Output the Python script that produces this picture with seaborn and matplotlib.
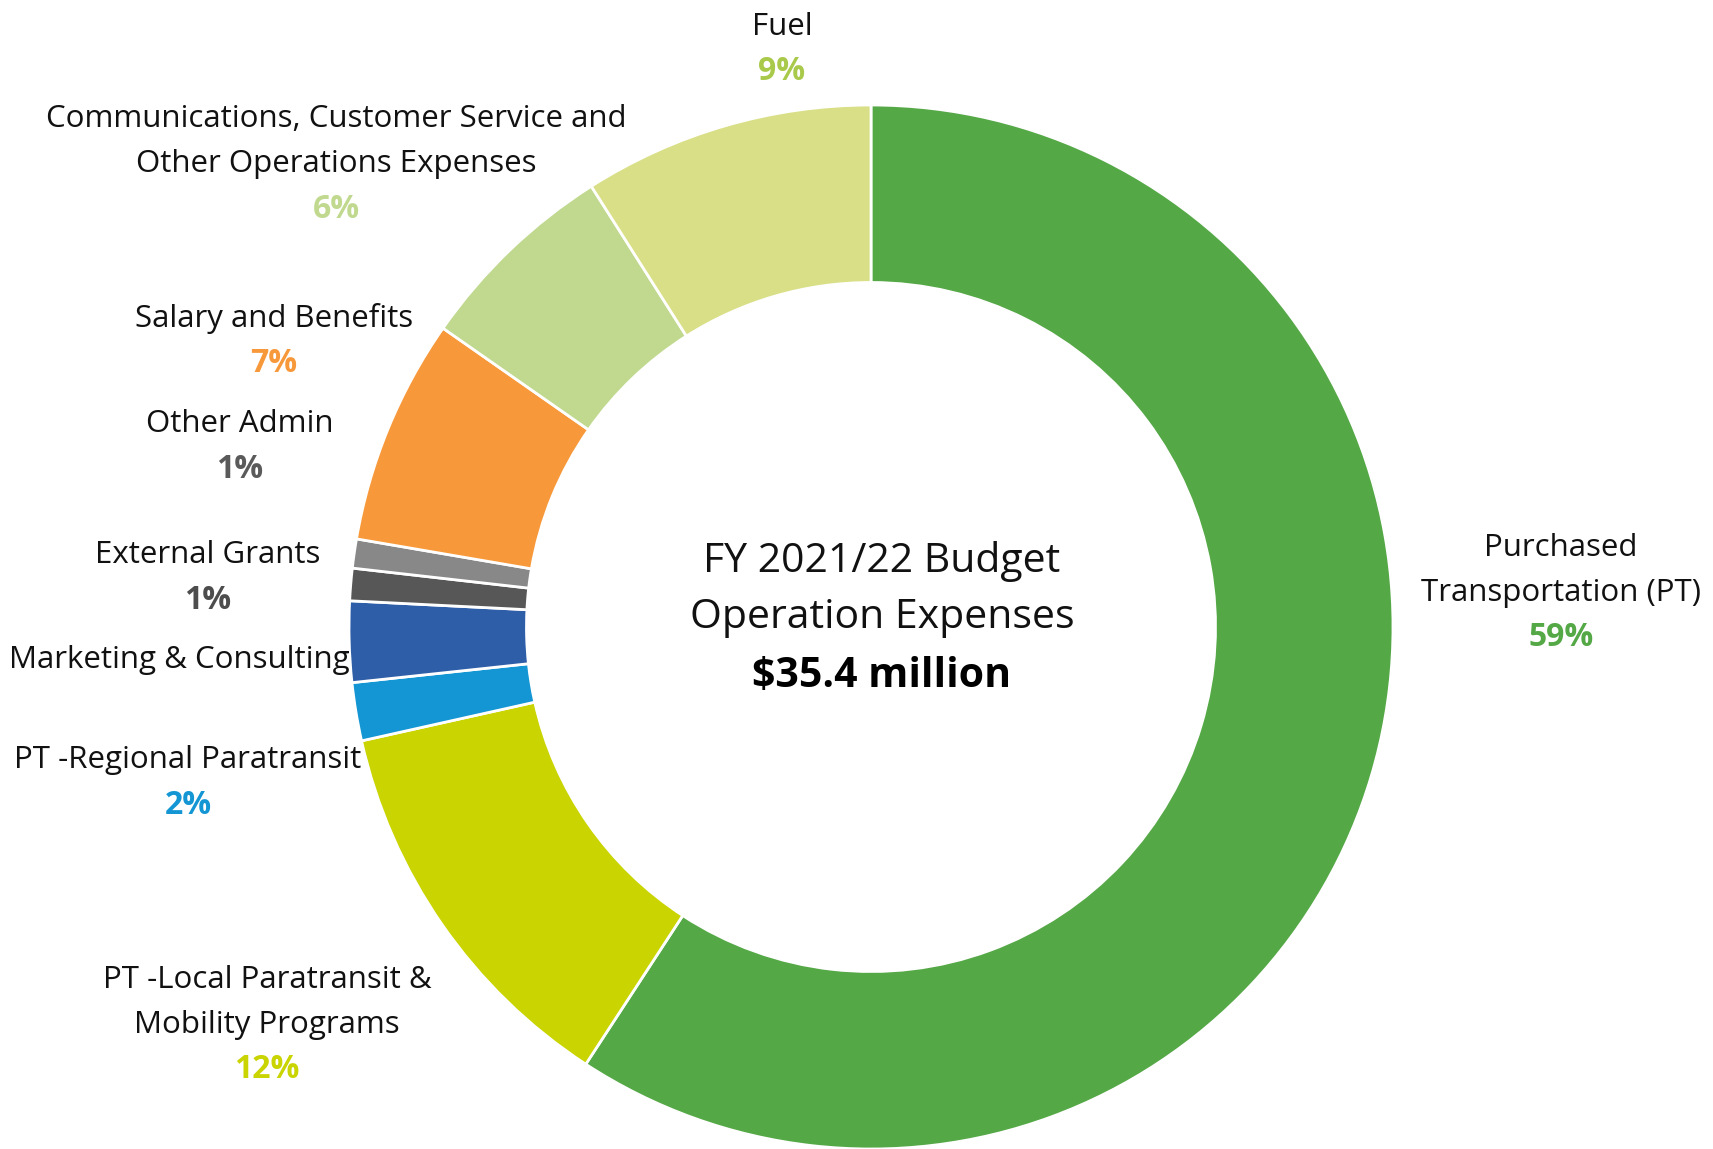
import matplotlib
matplotlib.use("Agg")
import matplotlib.pyplot as plt
import seaborn as sns

# FY 2021/22 operation expense shares (percent of $35.4M), clockwise from 12 o'clock
categories = [
    "Purchased\nTransportation (PT)",
    "PT -Local Paratransit &\nMobility Programs",
    "PT -Regional Paratransit",
    "Marketing & Consulting",
    "External Grants",
    "Other Admin",
    "Salary and Benefits",
    "Communications, Customer Service and\nOther Operations Expenses",
    "Fuel",
]
shares = [59.2, 12.3, 1.8, 2.5, 1.0, 0.9, 7.0, 6.3, 9.0]
show_pct = [True, True, True, False, True, True, True, True, True]

slice_colors = ["#55A846", "#C9D400", "#1396D3", "#2E5EA8", "#575757",
                "#888888", "#F7993A", "#C0D98E", "#D9DF86"]
pct_colors = ["#55A846", "#C9D400", "#1396D3", "#2E5EA8", "#4D4D4D",
              "#5A5A5A", "#F7993A", "#C0D98E", "#A9C94B"]

title_lines = ["FY 2021/22 Budget", "Operation Expenses"]
total_label = "$35.4 million"

sns.set_theme(style="white")
plt.rcParams["font.family"] = ["Open Sans", "DejaVu Sans"]

W, H = 1713, 1149
fig = plt.figure(figsize=(W / 100, H / 100), dpi=100)
fig.patch.set_facecolor("white")

cx, cy, R = 871, 627, 522
ax = fig.add_axes([(cx - R) / W, (H - cy - R) / H, 2 * R / W, 2 * R / H])
ax.pie(
    shares,
    colors=sns.color_palette(slice_colors),
    startangle=90,
    counterclock=False,
    radius=1.0,
    wedgeprops=dict(width=0.34, edgecolor="white", linewidth=2),
)
ax.set_xlim(-1, 1)
ax.set_ylim(-1, 1)
ax.set_aspect("equal")
ax.axis("off")


def ftext(x, y, s, **kw):
    fig.text(x / W, 1 - (y + 3) / H, s, ha="center", va="center", **kw)


# label anchor: (center x, y of first line) in pixels
label_pos = [(1561, 545), (267, 977), (188, 757), (179, 657), (208, 552),
             (240, 421), (274, 316), (336, 116), (782, 24)]
line_gap = 45
fs = 22.5

for name, val, show, pc, (lx, ly) in zip(categories, shares, show_pct,
                                          pct_colors, label_pos):
    lines = name.split("\n")
    for i, ln in enumerate(lines):
        ftext(lx, ly + i * line_gap, ln, fontsize=fs, color="#111111")
    if show:
        ftext(lx, ly + len(lines) * line_gap, f"{round(val)}%",
              fontsize=fs + 0.5, color=pc, fontweight="bold")

ftext(882, 558, title_lines[0], fontsize=29.5, color="#111111")
ftext(882, 615, title_lines[1], fontsize=29.5, color="#111111")
ftext(882, 673, total_label, fontsize=29.5, color="#000000", fontweight="bold")

fig.savefig("out.png", dpi=100, facecolor="white")
